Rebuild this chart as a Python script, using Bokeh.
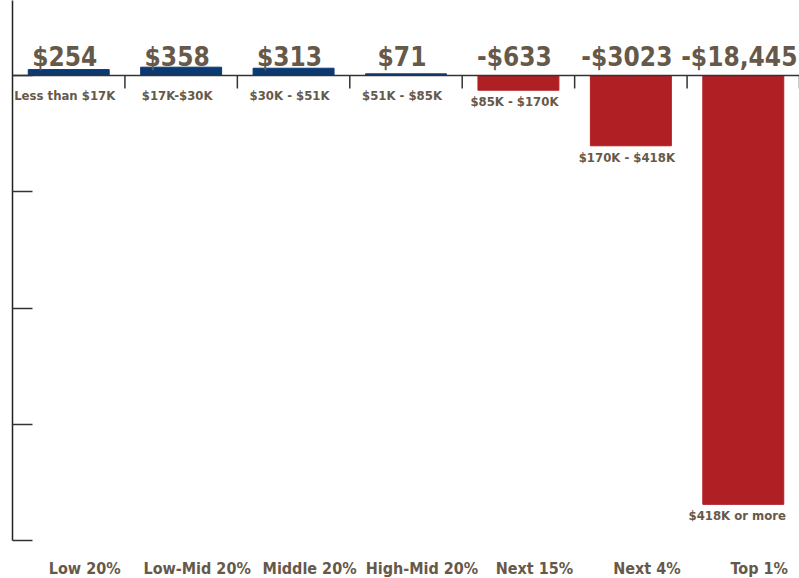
from bokeh.plotting import figure
from bokeh.models import (ColumnDataSource, LabelSet, Span, FixedTicker, Range1d,
                          CustomJSTickFormatter)
from bokeh.core.properties import value
from bokeh.embed import file_html
from bokeh.resources import INLINE

# ---- data ----
groups = ["Low 20%", "Low-Mid 20%", "Middle 20%", "High-Mid 20%",
          "Next 15%", "Next 4%", "Top 1%"]
income_ranges = ["Less than $17K", "$17K-$30K", "$30K - $51K", "$51K - $85K",
                 "$85K - $170K", "$170K - $418K", "$418K  or more"]
changes = [254, 358, 313, 71, -633, -3023, -18445]
change_labels = ["$254", "$358", "$313", "$71", "-$633", "-$3023", "-$18,445"]
y_ticks = [0, -5000, -10000, -15000, -20000]

# ---- styles ----
BLUE = "#0b3a72"
RED = "#b01f24"
TEXT = "#67594a"
FONT = value("DejaVu Sans Condensed")

y_axis_min = min(y_ticks)
y_range_min = -21634   # room below the axis for the group labels
y_range_max = 3226

idx = list(range(len(groups)))
src = ColumnDataSource(dict(
    x=idx,
    top=[max(v, 0) for v in changes],
    bottom=[min(v, 0) for v in changes],
    color=[BLUE if v > 0 else RED for v in changes],
    vlabel=change_labels,
    rlabel=income_ranges,
    roff=[-24 if v > 0 else -16 for v in changes],
    group=groups,
    ybase=[y_axis_min] * len(groups),
    zero=[0] * len(groups),
))

p = figure(width=799, height=578, output_backend="svg", toolbar_location=None,
           x_range=Range1d(-0.5, len(groups) - 0.5),
           y_range=Range1d(y_range_min, y_range_max),
           min_border_left=12, min_border_right=0, min_border_top=0, min_border_bottom=0)
p.outline_line_color = None
p.grid.visible = False
p.xaxis.visible = False

ya = p.yaxis[0]
ya.ticker = FixedTicker(ticks=y_ticks)
ya.formatter = CustomJSTickFormatter(code="return ''")
ya.bounds = (y_axis_min, y_range_max)
ya.major_tick_in = 20
ya.major_tick_out = 0
ya.minor_tick_line_color = None
ya.major_label_standoff = 0
ya.axis_line_color = "#222222"
ya.axis_line_width = 1.5
ya.major_tick_line_color = "#333333"
ya.major_tick_line_width = 1.5

p.vbar(x="x", top="top", bottom="bottom", width=0.72, color="color", source=src)

p.add_layout(Span(location=0, dimension="width", line_color="#333333", line_width=1.5))
p.ray(x=[i + 0.5 for i in idx], y=0, length=13, length_units="screen",
      angle=-90, angle_units="deg", line_color="#333333", line_width=1.5)

p.add_layout(LabelSet(x="x", y="zero", text="vlabel", source=src, x_offset=-4, y_offset=10,
                      text_align="center", text_baseline="alphabetic",
                      text_font=FONT, text_font_style="bold", text_font_size="26px",
                      text_color=TEXT))
p.add_layout(LabelSet(x="x", y="bottom", text="rlabel", source=src, x_offset=-4, y_offset="roff",
                      text_align="center", text_baseline="alphabetic",
                      text_font=FONT, text_font_style="bold", text_font_size="13px",
                      text_color=TEXT))
p.add_layout(LabelSet(x="x", y="ybase", text="group", source=src, x_offset=16, y_offset=-33,
                      text_align="center", text_baseline="alphabetic",
                      text_font=FONT, text_font_style="bold", text_font_size="16px",
                      text_color=TEXT))

open("out.html", "w").write(file_html(p, INLINE))
